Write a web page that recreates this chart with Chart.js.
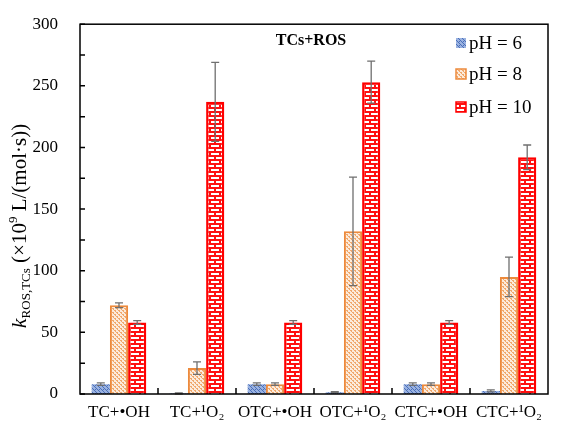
<!DOCTYPE html>
<html>
<head>
<meta charset="utf-8">
<script src="https://cdn.jsdelivr.net/npm/chart.js@4"></script>
<style>
  html, body { margin: 0; padding: 0; background: #fff; }
  #wrap { width: 561px; height: 422px; position: relative; }
</style>
</head>
<body>
<div id="wrap"><canvas id="rosChart" width="561" height="422"></canvas></div>
<script>
const categories = ['TC+•OH', 'TC+¹O₂', 'OTC+•OH', 'OTC+¹O₂', 'CTC+•OH', 'CTC+¹O₂'];
const seriesLabels = ['pH = 6', 'pH = 8', 'pH = 10'];
const ph6 = [8, 0.5, 8, 1.5, 8, 2.5];
const ph8 = [72, 21, 8, 132, 8, 95];
const ph10 = [58, 237, 58, 253, 58, 192];
const err6 = [1, 0.3, 1, 0.5, 1, 0.8];
const err8 = [2, 5, 1, 44, 1, 16];
const err10 = [1.5, 32, 1.5, 17, 1.5, 10];
const yTicks = [0, 50, 100, 150, 200, 250, 300];

const serif = '"Liberation Serif", "Times New Roman", serif';

function makePattern(w, h, draw) {
  const c = document.createElement('canvas');
  c.width = w; c.height = h;
  draw(c.getContext('2d'));
  return document.getElementById('rosChart').getContext('2d').createPattern(c, 'repeat');
}

// blue crosshatch
const bluePat = makePattern(4, 4, g => {
  g.fillStyle = '#9ab2e0'; g.fillRect(0, 0, 4, 4);
  g.fillStyle = '#4a6fba';
  g.fillRect(0, 0, 1, 1); g.fillRect(2, 2, 1, 1);
  g.fillRect(1, 1, 1, 1); g.fillRect(3, 3, 1, 1);
  g.fillRect(3, 1, 1, 1);
});
// orange dots
const orangePat = makePattern(4, 4, g => {
  g.fillStyle = '#fcebdc'; g.fillRect(0, 0, 4, 4);
  g.fillStyle = '#f0a86c';
  g.fillRect(0, 0, 2, 1); g.fillRect(2, 2, 2, 1);
  g.fillRect(1, 1, 1, 1); g.fillRect(3, 3, 1, 1);
});
// red brick
const brickPat = makePattern(10, 8, g => {
  g.fillStyle = '#ff1010'; g.fillRect(0, 0, 10, 8);
  g.fillStyle = '#ffffff';
  g.fillRect(1, 1, 8, 2);
  g.fillRect(0, 5, 4, 2); g.fillRect(6, 5, 4, 2);
});

const errors = [err6, err8, err10];

const framePlugin = {
  id: 'frame',
  afterDatasetsDraw(chart) {
    const { ctx, chartArea: a, scales: { x, y } } = chart;
    ctx.save();
    // error bars
    ctx.strokeStyle = '#6f6f6f';
    ctx.lineWidth = 1.3;
    chart.data.datasets.forEach((ds, i) => {
      const meta = chart.getDatasetMeta(i);
      meta.data.forEach((bar, j) => {
        const v = ds.data[j], e = errors[i][j];
        const yt = y.getPixelForValue(v + e), yb = y.getPixelForValue(Math.max(0, v - e));
        const cx = bar.x;
        ctx.beginPath();
        ctx.moveTo(cx, yt); ctx.lineTo(cx, yb);
        ctx.moveTo(cx - 4, yt); ctx.lineTo(cx + 4, yt);
        ctx.moveTo(cx - 4, yb); ctx.lineTo(cx + 4, yb);
        ctx.stroke();
      });
    });
    // frame
    ctx.strokeStyle = '#000';
    ctx.lineWidth = 1.5;
    ctx.strokeRect(a.left, a.top, a.right - a.left, a.bottom - a.top);
    // y ticks inward
    ctx.beginPath();
    y.ticks.forEach((t, i) => {
      const py = y.getPixelForTick(i);
      ctx.moveTo(a.left, py); ctx.lineTo(a.left + 5, py);
    });
    // x ticks at category boundaries
    for (let i = 1; i < categories.length; i++) {
      const px = (x.getPixelForValue(i - 1) + x.getPixelForValue(i)) / 2;
      ctx.moveTo(px, a.bottom); ctx.lineTo(px, a.bottom - 6);
    }
    ctx.stroke();

    // inner title
    ctx.fillStyle = '#000';
    ctx.font = 'bold 16px ' + serif;
    ctx.textAlign = 'center';
    ctx.textBaseline = 'middle';
    ctx.fillText('TCs+ROS', 311, 41);

    // legend
    ctx.font = '19px ' + serif;
    ctx.textAlign = 'left';
    const rows = [43, 74, 107];
    chart.data.datasets.forEach((ds, i) => {
      const ry = rows[i];
      ctx.fillStyle = ds.backgroundColor;
      ctx.fillRect(456, ry - 5, 10, 10);
      if (i > 0) {
        ctx.strokeStyle = ds.borderColor;
        ctx.lineWidth = 1.5;
        ctx.strokeRect(456, ry - 5, 10, 10);
      }
      ctx.fillStyle = '#000';
      ctx.fillText(ds.label, 469, ry + 1);
    });

    // y axis title
    ctx.save();
    ctx.translate(19, 226);
    ctx.rotate(-Math.PI / 2);
    ctx.textBaseline = 'alphabetic';
    const parts = [
      ['italic 22px ' + serif, 'k', 0],
      ['13px ' + serif, 'ROS,TCs', 4],
      ['21px ' + serif, ' (×10', 0],
      ['13px ' + serif, '9', -9],
      ['21px ' + serif, ' L/(mol·s))', 0]
    ];
    let total = 0;
    parts.forEach(p => { ctx.font = p[0]; total += ctx.measureText(p[1]).width; });
    let px = -total / 2;
    parts.forEach(p => {
      ctx.font = p[0];
      ctx.fillText(p[1], px, 7 + p[2]);
      px += ctx.measureText(p[1]).width;
    });
    ctx.restore();
    ctx.restore();
  }
};

new Chart(document.getElementById('rosChart'), {
  type: 'bar',
  data: {
    labels: categories,
    datasets: [
      { label: seriesLabels[0], data: ph6, backgroundColor: bluePat, borderColor: '#8fa9dc', borderWidth: 0 },
      { label: seriesLabels[1], data: ph8, backgroundColor: orangePat, borderColor: '#ed8a3c', borderWidth: 2 },
      { label: seriesLabels[2], data: ph10, backgroundColor: brickPat, borderColor: '#ff0000', borderWidth: 2.5 }
    ]
  },
  options: {
    responsive: false,
    animation: false,
    layout: { padding: { top: 20, right: 13, left: 0, bottom: 0 } },
    categoryPercentage: 0.7,
    barPercentage: 1.0,
    plugins: {
      legend: { display: false },
      title: { display: false },
      tooltip: { enabled: false }
    },
    scales: {
      x: {
        grid: { display: false },
        border: { display: false },
        ticks: {
          color: '#000',
          font: { family: serif, size: 17 },
          padding: 0,
          maxRotation: 0,
          autoSkip: false
        },
        afterFit(scale) { scale.height = 28; }
      },
      y: {
        min: 0,
        max: 300,
        grid: { display: false },
        border: { display: false },
        ticks: {
          stepSize: 25,
          color: '#000',
          font: { family: serif, size: 17 },
          padding: 14,
          callback: v => (yTicks.includes(v) ? v : '')
        },
        afterFit(scale) { scale.width = 80; }
      }
    }
  },
  plugins: [framePlugin]
});
</script>
</body>
</html>
